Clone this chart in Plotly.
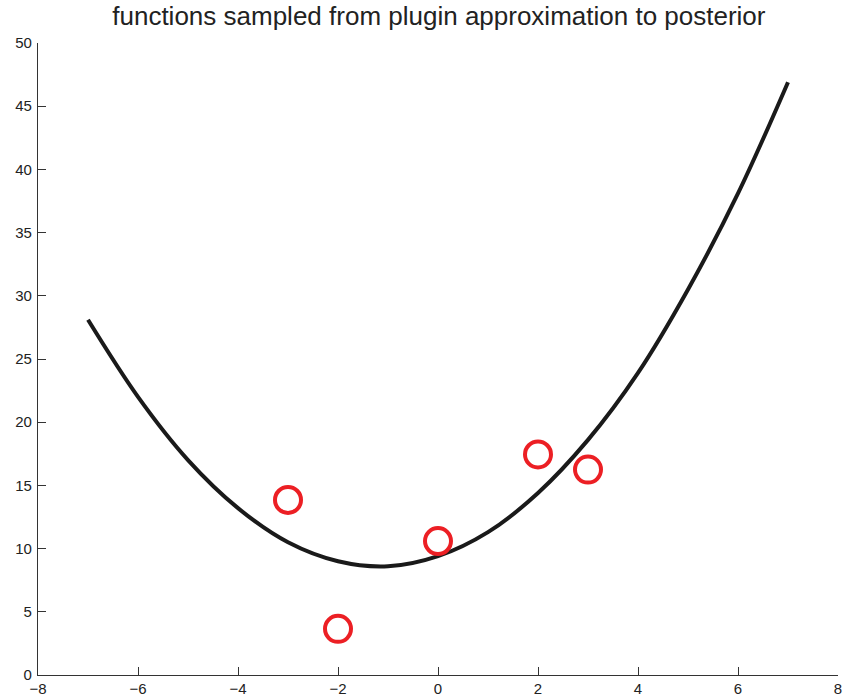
import plotly.graph_objects as go

# Observed data points (red circles)
data_x = [-3, -2, 0, 2, 3]
data_y = [13.85, 3.65, 10.6, 17.45, 16.25]

# Sampled function (black curve)
curve_x = [-7, -6, -5, -4, -3, -2, -1, 0, 1, 2, 3, 4, 5, 6, 7]
curve_y = [28.1, 22.0, 17.0, 13.2, 10.5, 9.0, 8.6, 9.4, 11.3, 14.4, 18.6, 23.9, 30.5, 38.1, 46.9]

title_text = "functions sampled from plugin approximation to posterior"
x_ticks = [-8, -6, -4, -2, 0, 2, 4, 6, 8]
y_ticks = [0, 5, 10, 15, 20, 25, 30, 35, 40, 45, 50]

fig = go.Figure()
fig.add_trace(go.Scatter(
    x=curve_x, y=curve_y, mode="lines",
    line=dict(color="#1a1a1a", width=4, shape="spline"),
    showlegend=False, hoverinfo="skip", cliponaxis=False))
fig.add_trace(go.Scatter(
    x=data_x, y=data_y, mode="markers",
    marker=dict(symbol="circle-open", size=26, color="#ec1f24",
                line=dict(width=4, color="#ec1f24")),
    showlegend=False, cliponaxis=False))

tick_font = dict(family="Liberation Sans, Arial, sans-serif", size=15, color="#222")
fig.update_layout(
    width=844, height=699,
    margin=dict(l=38, r=6, t=43, b=24),
    paper_bgcolor="white", plot_bgcolor="white",
    title=dict(text=title_text, x=0.52, xanchor="center", y=0.977, yanchor="middle",
               font=dict(family="Liberation Sans, Arial, sans-serif", size=26, color="#222")),
    xaxis=dict(range=[-8, 8], tickvals=x_ticks,
               ticktext=[("\u2212" + str(-v)) if v < 0 else str(v) for v in x_ticks],
               showgrid=False, zeroline=False, showline=True, linecolor="#333", linewidth=1.3,
               ticks="inside", ticklen=8, tickcolor="#333", tickwidth=1.3, tickfont=tick_font,
               mirror=False, automargin=False, ticklabelstandoff=0),
    yaxis=dict(range=[0, 50], tickvals=y_ticks,
               showgrid=False, zeroline=False, showline=True, linecolor="#333", linewidth=1.3,
               ticks="inside", ticklen=8, tickcolor="#333", tickwidth=1.3, tickfont=tick_font,
               mirror=False, automargin=False, ticklabelstandoff=2),
)
fig.write_html("out.html", config={"displayModeBar": False},
               post_script="document.body.style.margin='0';document.body.style.overflow='hidden';")
